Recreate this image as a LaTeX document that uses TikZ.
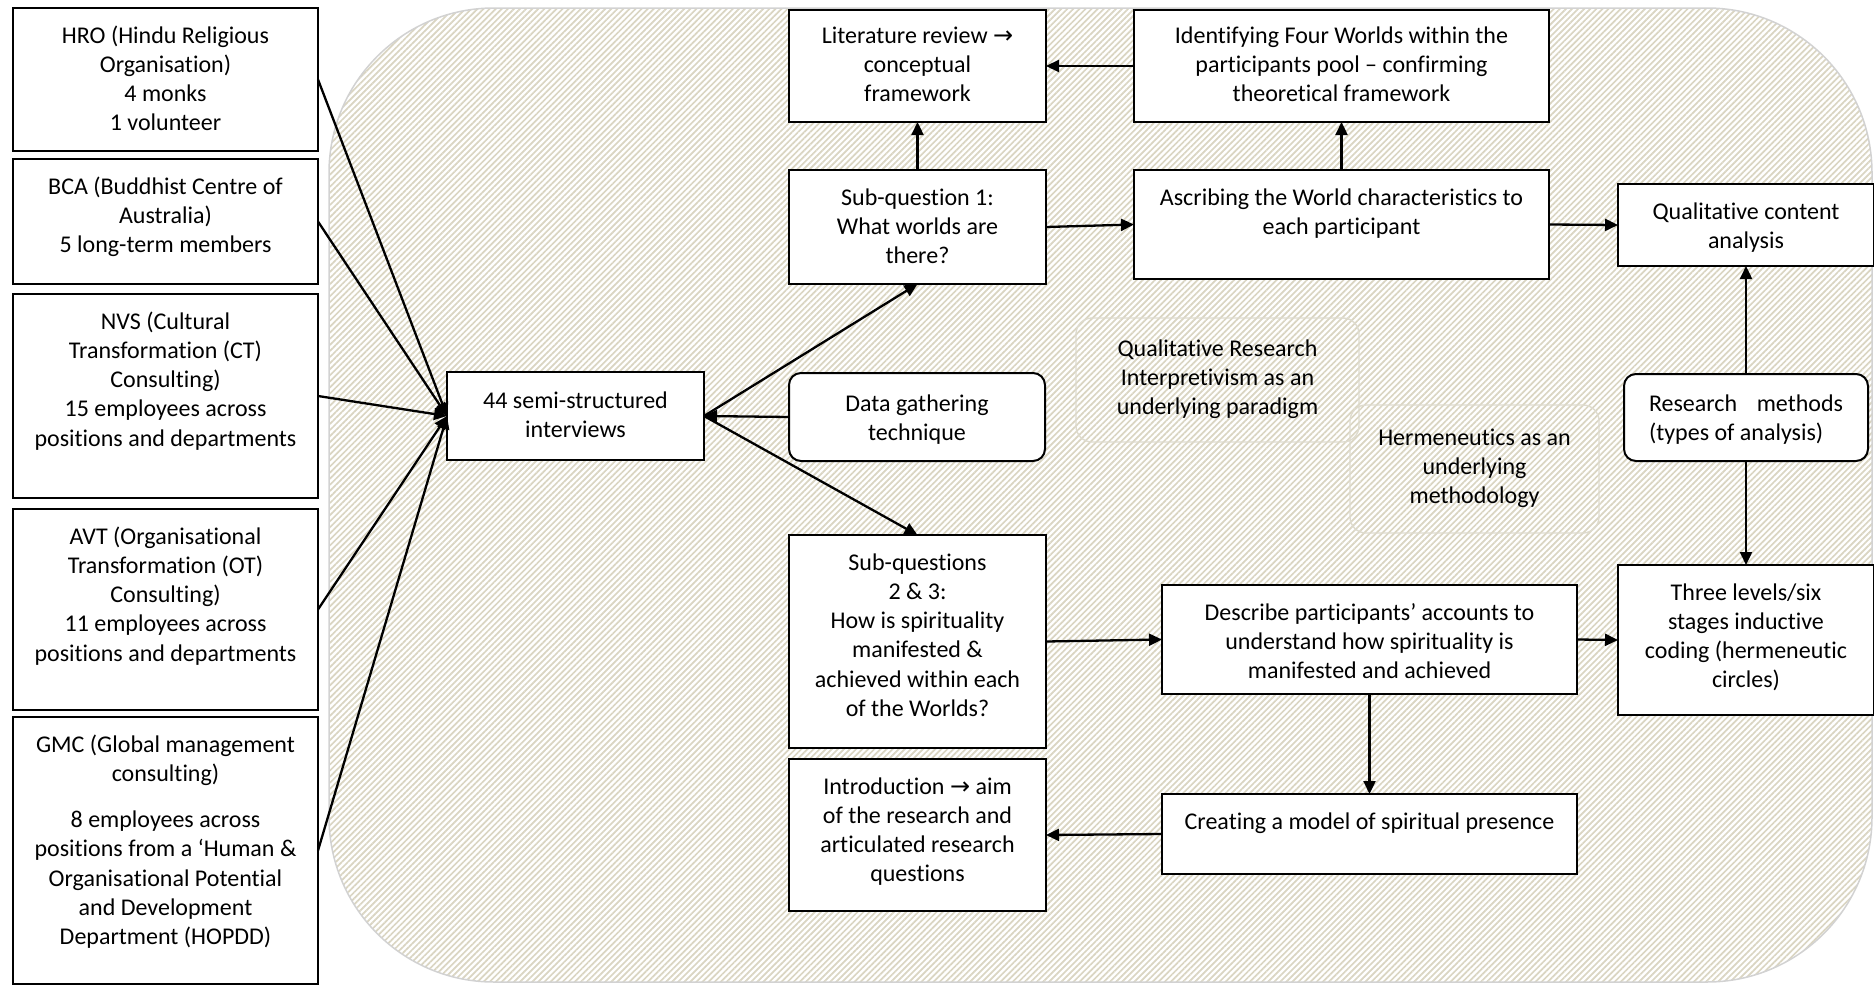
\documentclass[tikz,border=0pt]{standalone}
\usepackage{fontspec}
\setmainfont{Carlito}[Ligatures=NoCommon]
\newfontfamily\dvfont{DejaVu Sans}
\usetikzlibrary{arrows.meta,patterns.meta}
\definecolor{hatch}{HTML}{DAD5C2}
\definecolor{bgline}{HTML}{D2D2D2}
\definecolor{faint}{HTML}{DEDBCE}
\newcommand\bt[4][35pt]{\parbox[c][#2][t]{#3}{\centering\rule{0pt}{#1}#4\par}}
\newcommand\rarr{{\dvfont\symbol{"2192}}}
\begin{document}
\begin{tikzpicture}[x=1pt,y=-1pt,
  font=\fontsize{24}{29.3}\selectfont,
  box/.style={draw, line width=2pt, fill=white, inner sep=0pt, outer sep=0pt},
  rbox/.style={box, rounded corners=12pt},
  fbox/.style={draw=faint, line width=1.4pt, rounded corners=16pt, inner sep=0pt, outer sep=0pt},
  arr/.style={line width=2.3pt, -{Triangle[length=13pt,width=12pt]}}
]
\useasboundingbox (0,0) rectangle (1874,985);
% background
\fill[white, rounded corners=165pt] (329,8) rectangle (1872,982);
\path[pattern={Lines[angle=45,distance=4.3pt,line width=1.7pt]}, pattern color=hatch]
  [rounded corners=165pt] (329,8) rectangle (1872,982);
\draw[bgline, line width=1.5pt, rounded corners=165pt] (329,8) rectangle (1872,982);
% left column
\node[box] (hro) at (165.5,79.5) {\bt{143pt}{305pt}{HRO (Hindu Religious\\Organisation)\\4 monks\\1 volunteer}};
\node[box] (bca) at (165.5,221.5) {\bt{125pt}{305pt}{BCA (Buddhist Centre of\\Australia)\\5 long-term members}};
\node[box] (nvs) at (165.5,396) {\bt{204pt}{305pt}{NVS (Cultural\\Transformation (CT)\\Consulting)\\15 employees across\\positions and departments}};
\node[box] (avt) at (165.5,609.5) {\bt{201pt}{305pt}{AVT (Organisational\\Transformation (OT)\\Consulting)\\11 employees across\\positions and departments}};
\node[box] (gmc) at (165.5,850.5) {\bt{267pt}{305pt}{GMC (Global management\\consulting)\\[17pt]8 employees across\\positions from a ‘Human \&\\Organisational Potential\\and Development\\Department (HOPDD)}};
% centre
\node[box] (semi) at (575.5,416) {\bt[36pt]{88pt}{257pt}{44 semi-structured\\interviews}};
\node[box] (lit) at (917.5,66) {\bt[33pt]{112pt}{257pt}{Literature review \rarr\\conceptual\\framework}};
\node[box] (ident) at (1341.5,66) {\bt[33pt]{112pt}{415pt}{Identifying Four Worlds within the\\participants pool – confirming\\theoretical framework}};
\node[box] (sq1) at (917.5,227) {\bt{114pt}{257pt}{Sub-question 1:\\What worlds are\\there?}};
\node[box] (ascr) at (1341.5,224.5) {\bt{109pt}{415pt}{Ascribing the World characteristics to\\each participant}};
\node[box] (qca) at (1746,225) {\bt{82pt}{256pt}{Qualitative content\\analysis}};
\node[rbox] (data) at (917,417) {\bt[38pt]{88pt}{256pt}{Data gathering\\technique}};
\node[fbox] (qr) at (1217.5,380) {\bt[38pt]{124pt}{283pt}{Qualitative Research\\Interpretivism as an\\underlying paradigm}};
\node[fbox] (herm) at (1474.5,469) {\bt[40pt]{128pt}{249pt}{Hermeneutics as an\\underlying\\methodology}};
\node[rbox] (rm) at (1746,417.5) {\parbox[c][87pt][t]{244pt}{\rule{0pt}{37pt}\hspace*{25pt}\makebox[194pt][s]{Research methods}\\\hspace*{25pt}(types of analysis)\par}};
\node[box] (three) at (1746,640) {\bt{150pt}{256pt}{Three levels/six\\stages inductive\\coding (hermeneutic\\circles)}};
\node[box] (sq23) at (917.5,641.5) {\bt{213pt}{257pt}{Sub-questions\\2 \& 3:\\How is spirituality\\manifested \&\\achieved within each\\of the Worlds?}};
\node[box] (intro) at (917.5,835) {\bt{152pt}{257pt}{Introduction \rarr{} aim\\of the research and\\articulated research\\questions}};
\node[box] (desc) at (1369.5,639.5) {\bt{109pt}{415pt}{Describe participants’ accounts to\\understand how spirituality is\\manifested and achieved}};
\node[box] (create) at (1369.5,834) {\bt{80pt}{415pt}{Creating a model of spiritual presence}};
% connectors
\foreach \s in {hro,bca,nvs,avt,gmc} \draw[arr] (\s.east) -- (semi.west);
\draw[arr] (semi.east) -- (sq1.south);
\draw[arr] (semi.east) -- (sq23.north);
\draw[arr] (data.west) -- (semi.east);
\draw[arr] (sq1.north) -- (lit.south);
\draw[arr] (ident.west) -- (lit.east);
\draw[arr] (ascr.north) -- (ident.south);
\draw[arr] (sq1.east) -- (ascr.west);
\draw[arr] (ascr.east) -- (qca.west);
\draw[arr] (rm.north) -- (qca.south);
\draw[arr] (rm.south) -- (three.north);
\draw[arr] (sq23.east) -- (desc.west);
\draw[arr] (desc.east) -- (three.west);
\draw[arr] (desc.south) -- (create.north);
\draw[arr] (create.west) -- (intro.east);
\end{tikzpicture}
\end{document}
